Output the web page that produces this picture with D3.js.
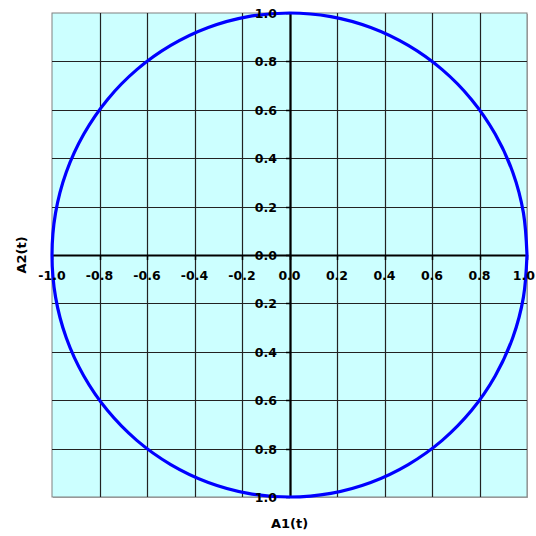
<!DOCTYPE html>
<html>
<head>
<meta charset="utf-8">
<script src="https://cdn.jsdelivr.net/npm/d3@7"></script>
<style>
  body { margin: 0; background: #fff; }
  text { font-family: "DejaVu Sans", Arial, sans-serif; font-weight: bold; }
</style>
</head>
<body>
<svg id="svg" width="536" height="536"></svg>
<script>
// tick values for both axes
var xTicks = [-1.0, -0.8, -0.6, -0.4, -0.2, 0.0, 0.2, 0.4, 0.6, 0.8, 1.0]
var yTicks = [-1.0, -0.8, -0.6, -0.4, -0.2, 0.0, 0.2, 0.4, 0.6, 0.8, 1.0]
// y labels as they appear in the picture (no minus sign)
var yLabels = ["1.0", "0.8", "0.6", "0.4", "0.2", "0.0", "0.2", "0.4", "0.6", "0.8", "1.0"]
var xLabels = ["-1.0", "-0.8", "-0.6", "-0.4", "-0.2", "0.0", "0.2", "0.4", "0.6", "0.8", "1.0"]
// sampled curve A1(t), A2(t), t in degrees 0..360 step 10
var tDeg = [0,10,20,30,40,50,60,70,80,90,100,110,120,130,140,150,160,170,180,
            190,200,210,220,230,240,250,260,270,280,290,300,310,320,330,340,350,360]
var a1 = [1.000,0.985,0.940,0.866,0.766,0.643,0.500,0.342,0.174,0.000,-0.174,-0.342,-0.500,-0.643,-0.766,-0.866,-0.940,-0.985,-1.000,
          -0.985,-0.940,-0.866,-0.766,-0.643,-0.500,-0.342,-0.174,0.000,0.174,0.342,0.500,0.643,0.766,0.866,0.940,0.985,1.000]
var a2 = [0.000,0.174,0.342,0.500,0.643,0.766,0.866,0.940,0.985,1.000,0.985,0.940,0.866,0.766,0.643,0.500,0.342,0.174,0.000,
          -0.174,-0.342,-0.500,-0.643,-0.766,-0.866,-0.940,-0.985,-1.000,-0.985,-0.940,-0.866,-0.766,-0.643,-0.500,-0.342,-0.174,0.000]

function main() {
  var svg = d3.select("#svg")
  var pLeft = 52, pRight = 527, pTop = 13, pBottom = 497

  var x = d3.scaleLinear().domain([-1, 1]).range([pLeft, pRight])
  var y = d3.scaleLinear().domain([-1, 1]).range([pBottom, pTop])

  // plot area
  svg.append("rect")
    .attr("x", pLeft + 1).attr("y", pTop + 1)
    .attr("width", pRight - pLeft).attr("height", pBottom - pTop)
    .attr("fill", "#b0b0b0")
  svg.append("rect")
    .attr("x", pLeft).attr("y", pTop)
    .attr("width", pRight - pLeft).attr("height", pBottom - pTop)
    .attr("fill", "#ccffff")
    .attr("stroke", "#808080")

  // grid
  var grid = svg.append("g").attr("stroke", "#222").attr("stroke-width", 1.2)
  grid.selectAll(".vx").data(xTicks.slice(1, -1)).enter().append("line")
    .attr("x1", d => Math.round(x(d)) + 0.5).attr("x2", d => Math.round(x(d)) + 0.5)
    .attr("y1", pTop).attr("y2", pBottom)
  grid.selectAll(".hy").data(yTicks.slice(1, -1)).enter().append("line")
    .attr("y1", d => Math.round(y(d)) + 0.5).attr("y2", d => Math.round(y(d)) + 0.5)
    .attr("x1", pLeft).attr("x2", pRight)

  // axes through zero
  var x0 = Math.round(x(0)), y0 = Math.round(y(0))
  svg.append("line").attr("x1", pLeft).attr("x2", pRight).attr("y1", y0 + 0.5).attr("y2", y0 + 0.5)
    .attr("stroke", "#000").attr("stroke-width", 2.2)
  svg.append("line").attr("y1", pTop).attr("y2", pBottom).attr("x1", x0 + 0.5).attr("x2", x0 + 0.5)
    .attr("stroke", "#000").attr("stroke-width", 2.2)

  // tick marks
  svg.selectAll(".xt").data(xTicks).enter().append("line")
    .attr("x1", d => Math.round(x(d)) + 0.5).attr("x2", d => Math.round(x(d)) + 0.5)
    .attr("y1", y0).attr("y2", y0 + 5)
    .attr("stroke", "#000").attr("stroke-width", 1.5)
  svg.selectAll(".yt").data(yTicks).enter().append("line")
    .attr("y1", d => Math.round(y(d)) + 0.5).attr("y2", d => Math.round(y(d)) + 0.5)
    .attr("x1", x0 - 4).attr("x2", x0)
    .attr("stroke", "#000").attr("stroke-width", 1.5)

  // circle curve
  var line = d3.line().x((d, i) => x(a1[i])).y((d, i) => y(a2[i])).curve(d3.curveCatmullRom.alpha(0.5))
  svg.append("path").datum(tDeg)
    .attr("d", line)
    .attr("fill", "none")
    .attr("stroke", "#0000ff")
    .attr("stroke-width", 3.2)

  // tick labels
  svg.selectAll(".xl").data(xTicks).enter().append("text")
    .attr("x", d => x(d))
    .attr("y", y0 + 25)
    .attr("text-anchor", "middle")
    .attr("font-size", 12.5)
    .text((d, i) => xLabels[i])
    .each(function() {
      // keep the last label inside the page
      var w = this.getComputedTextLength()
      var cx = +this.getAttribute("x")
      if (cx + w / 2 > 535) this.setAttribute("x", 535 - w / 2)
    })
  svg.selectAll(".yl").data(yTicks).enter().append("text")
    .attr("x", x0 - 13)
    .attr("y", d => y(d) + 5)
    .attr("text-anchor", "end")
    .attr("font-size", 12.5)
    .text((d, i) => yLabels[i])

  // axis titles
  svg.append("text")
    .attr("x", (pLeft + pRight) / 2).attr("y", 528)
    .attr("text-anchor", "middle").attr("font-size", 13)
    .text("A1(t)")
  svg.append("text")
    .attr("transform", "translate(26," + ((pTop + pBottom) / 2) + ") rotate(-90)")
    .attr("text-anchor", "middle").attr("font-size", 13)
    .text("A2(t)")
}
main()
</script>
</body>
</html>
